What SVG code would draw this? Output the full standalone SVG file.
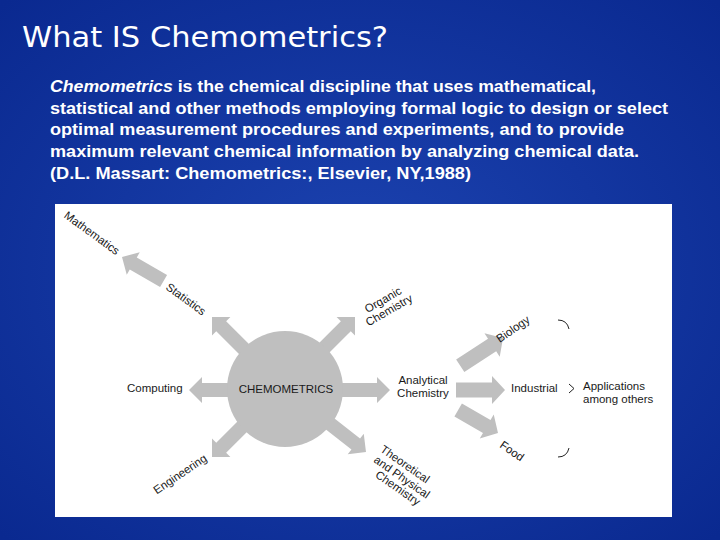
<svg xmlns="http://www.w3.org/2000/svg" width="720" height="540" viewBox="0 0 720 540">
<defs>
<radialGradient id="bg" cx="50%" cy="50%" r="70%">
<stop offset="0" stop-color="#1c43b0"/>
<stop offset="1" stop-color="#0a2990"/>
</radialGradient>
<style>
.title{font-family:"DejaVu Sans","Liberation Sans",sans-serif;font-size:29px;fill:#ffffff}
.body{font-family:"Liberation Sans",Arial,sans-serif;font-size:16px;font-weight:bold;fill:#ffffff}
.lbl{font-family:"Liberation Sans",Arial,sans-serif;font-size:11.5px;fill:#1a1a1a}
.mid{text-anchor:middle}
.arr{fill:#bfbfbf}
.node{fill:#bfbfbf}
.brace{fill:none;stroke:#222;stroke-width:1}
</style>
</defs>
<rect width="720" height="540" fill="url(#bg)"/>
<rect x="55" y="204" width="617" height="313" fill="#ffffff"/>

<g id="title"><text class="title" x="22" y="47" textLength="366" lengthAdjust="spacingAndGlyphs">What IS Chemometrics?</text></g>
<g id="definition">
<text class="body" x="50" y="92" textLength="546" lengthAdjust="spacingAndGlyphs"><tspan font-style="italic">Chemometrics</tspan> is the chemical discipline that uses mathematical,</text>
<text class="body" x="50" y="114" textLength="618" lengthAdjust="spacingAndGlyphs">statistical and other methods employing formal logic to design or select</text>
<text class="body" x="50" y="135" textLength="574" lengthAdjust="spacingAndGlyphs">optimal measurement procedures and experiments, and to provide</text>
<text class="body" x="50" y="157" textLength="589" lengthAdjust="spacingAndGlyphs">maximum relevant chemical information by analyzing chemical data.</text>
<text class="body" x="50" y="179" textLength="421" lengthAdjust="spacingAndGlyphs">(D.L. Massart: Chemometrics:, Elsevier, NY,1988)</text>
</g>

<g id="connectors">
<path class="arr" transform="translate(189,390) rotate(180)" d="M0,0 L-13,-13 L-13,-7 L-50,-7 L-50,7 L-13,7 L-13,13 Z"/>
<path class="arr" transform="translate(390,390)" d="M0,0 L-13,-13 L-13,-7 L-60,-7 L-60,7 L-13,7 L-13,13 Z"/>
<path class="arr" transform="translate(212,317) rotate(-135)" d="M0,0 L-13,-13 L-13,-7 L-70,-7 L-70,7 L-13,7 L-13,13 Z"/>
<path class="arr" transform="translate(355,317) rotate(-45)" d="M0,0 L-13,-13 L-13,-7 L-70,-7 L-70,7 L-13,7 L-13,13 Z"/>
<path class="arr" transform="translate(212,457) rotate(135)" d="M0,0 L-13,-13 L-13,-7 L-70,-7 L-70,7 L-13,7 L-13,13 Z"/>
<path class="arr" transform="translate(366,452) rotate(38)" d="M0,0 L-13,-13 L-13,-7 L-75,-7 L-75,7 L-13,7 L-13,13 Z"/>
<path class="arr" transform="translate(122,257) rotate(-150)" d="M0,0 L-13,-13 L-13,-7 L-48,-7 L-48,7 L-13,7 L-13,13 Z"/>
<path class="arr" transform="translate(503,338) rotate(-33)" d="M0,0 L-13,-14 L-13,-7.5 L-51,-7.5 L-51,7.5 L-13,7.5 L-13,14 Z"/>
<path class="arr" transform="translate(505,390)" d="M0,0 L-13,-14 L-13,-7.5 L-49,-7.5 L-49,7.5 L-13,7.5 L-13,14 Z"/>
<path class="arr" transform="translate(498,433) rotate(30)" d="M0,0 L-13,-14 L-13,-7.5 L-46,-7.5 L-46,7.5 L-13,7.5 L-13,14 Z"/>
<path class="brace" d="M558,320 Q567,320 569,329"/>
<path class="brace" d="M569,384 L574,388.5 L569,393"/>
<path class="brace" d="M558,457 Q567,457 569,448"/>
</g>

<g id="chemometrics">
<circle class="node" cx="285" cy="389" r="58"/>
<text class="lbl mid" x="286" y="393">CHEMOMETRICS</text>
</g>
<g id="computing"><text class="lbl" x="127" y="392">Computing</text></g>
<g id="statistics"><text class="lbl mid" transform="translate(186,299) rotate(36)" y="4">Statistics</text></g>
<g id="mathematics"><text class="lbl mid" transform="translate(92,233) rotate(36)" y="4">Mathematics</text></g>
<g id="organic"><g transform="translate(386,305) rotate(-30)">
<text class="lbl mid" x="0" y="-2">Organic</text>
<text class="lbl mid" x="0" y="10">Chemistry</text></g></g>
<g id="engineering"><text class="lbl mid" transform="translate(180,474) rotate(-34)" y="4">Engineering</text></g>
<g id="theoretical">
<text class="lbl mid" transform="translate(405,464) rotate(35)" y="4">Theoretical</text>
<text class="lbl mid" transform="translate(402,477) rotate(35)" y="4">and Physical</text>
<text class="lbl mid" transform="translate(398,488) rotate(35)" y="4">Chemistry</text>
</g>
<g id="analytical">
<text class="lbl mid" x="423" y="384">Analytical</text>
<text class="lbl mid" x="423" y="397">Chemistry</text>
</g>
<g id="biology"><text class="lbl mid" transform="translate(513,329) rotate(-35)" y="4">Biology</text></g>
<g id="industrial"><text class="lbl" x="511" y="392">Industrial</text></g>
<g id="food"><text class="lbl mid" transform="translate(512,451) rotate(35)" y="4">Food</text></g>
<g id="applications">
<text class="lbl" x="583" y="390">Applications</text>
<text class="lbl" x="583" y="403">among others</text>
</g>
</svg>
